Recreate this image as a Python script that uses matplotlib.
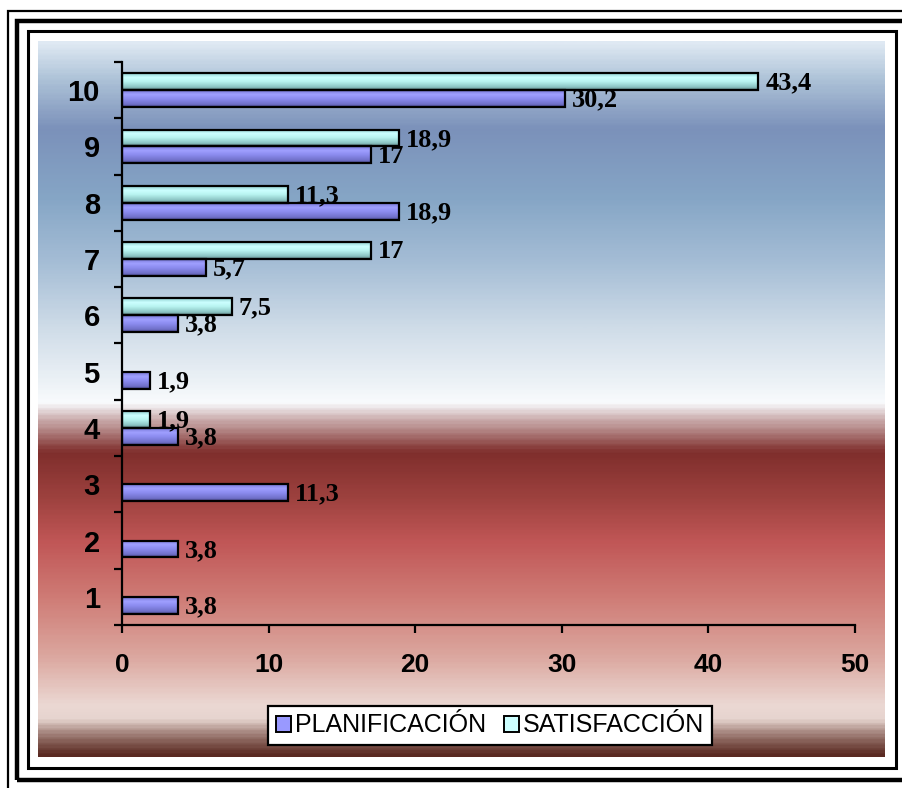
import matplotlib.pyplot as plt
import numpy as np
from matplotlib.colors import LinearSegmentedColormap
from matplotlib.patches import Rectangle

# data
categorias = [1, 2, 3, 4, 5, 6, 7, 8, 9, 10]
planificacion = [3.8, 3.8, 11.3, 3.8, 1.9, 3.8, 5.7, 18.9, 17, 30.2]
satisfaccion = [np.nan, np.nan, np.nan, 1.9, np.nan, 7.5, 17, 11.3, 18.9, 43.4]
x_ticks = [0, 10, 20, 30, 40, 50]

W, H = 903, 788
fig = plt.figure(figsize=(W / 100, H / 100), dpi=100)


def frac(x0, y0, x1, y1):
    # pixel box (top-left origin) -> figure fraction rect
    return [x0 / W, 1 - y1 / H, (x1 - x0) / W, (y1 - y0) / H]


def frame(x0, y0, x1, y1, lw):
    l, b, w, h = frac(x0, y0, x1, y1)
    fig.add_artist(Rectangle((l, b), w, h, transform=fig.transFigure,
                             fill=False, edgecolor='black', linewidth=lw))


# nested black borders
frame(7.5, 10.5, 920, 800, 1.6)
frame(17.5, 20.5, 915, 779.5, 3.2)
frame(28, 31, 896, 768, 2.2)

# gradient backdrop
bg_cmap = LinearSegmentedColormap.from_list('fondo', [
    (0.00, '#dfe9f3'), (0.05, '#aec3d8'), (0.12, '#7b91ba'),
    (0.22, '#86a6c6'), (0.31, '#a6bed6'), (0.40, '#cfdce8'),
    (0.48, '#eef3f7'), (0.505, '#f9fbfd'), (0.53, '#c9aaaa'),
    (0.575, '#7f2e2c'), (0.64, '#9e423f'), (0.70, '#c05656'),
    (0.78, '#cf7c76'), (0.86, '#dba69e'), (0.93, '#ebd8d3'),
    (0.95, '#e6d4cf'), (0.975, '#947068'), (1.00, '#5a2a22')])
bg = fig.add_axes(frac(38, 41, 885, 757), zorder=0)
bg.imshow(np.linspace(0, 1, 400).reshape(-1, 1), cmap=bg_cmap,
          aspect='auto', extent=(0, 1, 0, 1))
bg.axis('off')

ax = fig.add_axes(frac(122, 62, 855, 625), zorder=1)
ax.set_facecolor('none')

morado = LinearSegmentedColormap.from_list('morado', [
    (0.0, '#404080'), (0.15, '#7070c8'), (0.5, '#8c8cf0'),
    (0.75, '#a0a0ff'), (1.0, '#7878d8')])
cian = LinearSegmentedColormap.from_list('cian', [
    (0.0, '#507070'), (0.15, '#88c0c0'), (0.5, '#b8f4f0'),
    (0.75, '#ccffff'), (1.0, '#90d0d0')])

bh = 0.3
grad = np.linspace(0, 1, 64).reshape(-1, 1)


def fmt(v):
    return f"{v:g}".replace('.', ',')


def draw_series(values, offset, cmap):
    for cat, v in zip(categorias, values):
        if np.isnan(v):
            continue
        y0 = cat + offset - bh / 2
        ax.imshow(grad, cmap=cmap, aspect='auto', origin='lower',
                  extent=(0, v, y0, y0 + bh), zorder=2)
        ax.barh(cat + offset, v, height=bh, facecolor='none',
                edgecolor='black', linewidth=1.6, zorder=3)
        ax.annotate(fmt(v), (v, cat + offset), xytext=(5, -1),
                    textcoords='offset points', va='center', ha='left',
                    fontsize=19, fontweight='bold',
                    family='Liberation Serif', zorder=4)


draw_series(planificacion, -bh / 2, morado)
draw_series(satisfaccion, bh / 2, cian)

ax.set_xlim(0, 50)
ax.set_ylim(0.5, 10.5)
ax.set_xticks(x_ticks)
ax.set_xticklabels([str(t) for t in x_ticks], fontsize=19,
                   fontweight='bold', family='Liberation Sans')
ax.set_yticks(categorias)
ax.set_yticklabels([str(c) for c in categorias], fontsize=21,
                   fontweight='bold', family='Liberation Sans')
ax.set_yticks(np.arange(0.5, 11, 1), minor=True)
ax.tick_params(axis='y', which='major', length=0, pad=16)
ax.tick_params(axis='y', which='minor', length=6, width=1.6,
               direction='out')
ax.tick_params(axis='x', which='major', length=6, width=1.6,
               direction='out', pad=14)
for s in ['top', 'right']:
    ax.spines[s].set_visible(False)
for s in ['left', 'bottom']:
    ax.spines[s].set_linewidth(1.6)

handles = [Rectangle((0, 0), 1, 1, facecolor='#9999ff', edgecolor='black',
                     linewidth=1.4),
           Rectangle((0, 0), 1, 1, facecolor='#ccffff', edgecolor='black',
                     linewidth=1.4)]
leg = fig.legend(handles, ['PLANIFICACIÓN', 'SATISFACCIÓN'],
                 loc='center', bbox_to_anchor=(490 / W, 1 - 725.5 / H),
                 ncol=2, fancybox=False, framealpha=1, edgecolor='black',
                 prop={'family': 'Liberation Sans', 'size': 18},
                 handlelength=0.62, handleheight=0.62, handletextpad=0.15,
                 columnspacing=0.7, borderpad=0.3, borderaxespad=0)
leg.get_frame().set_linewidth(1.6)
leg.set_zorder(5)

fig.savefig('out.png', dpi=100)
